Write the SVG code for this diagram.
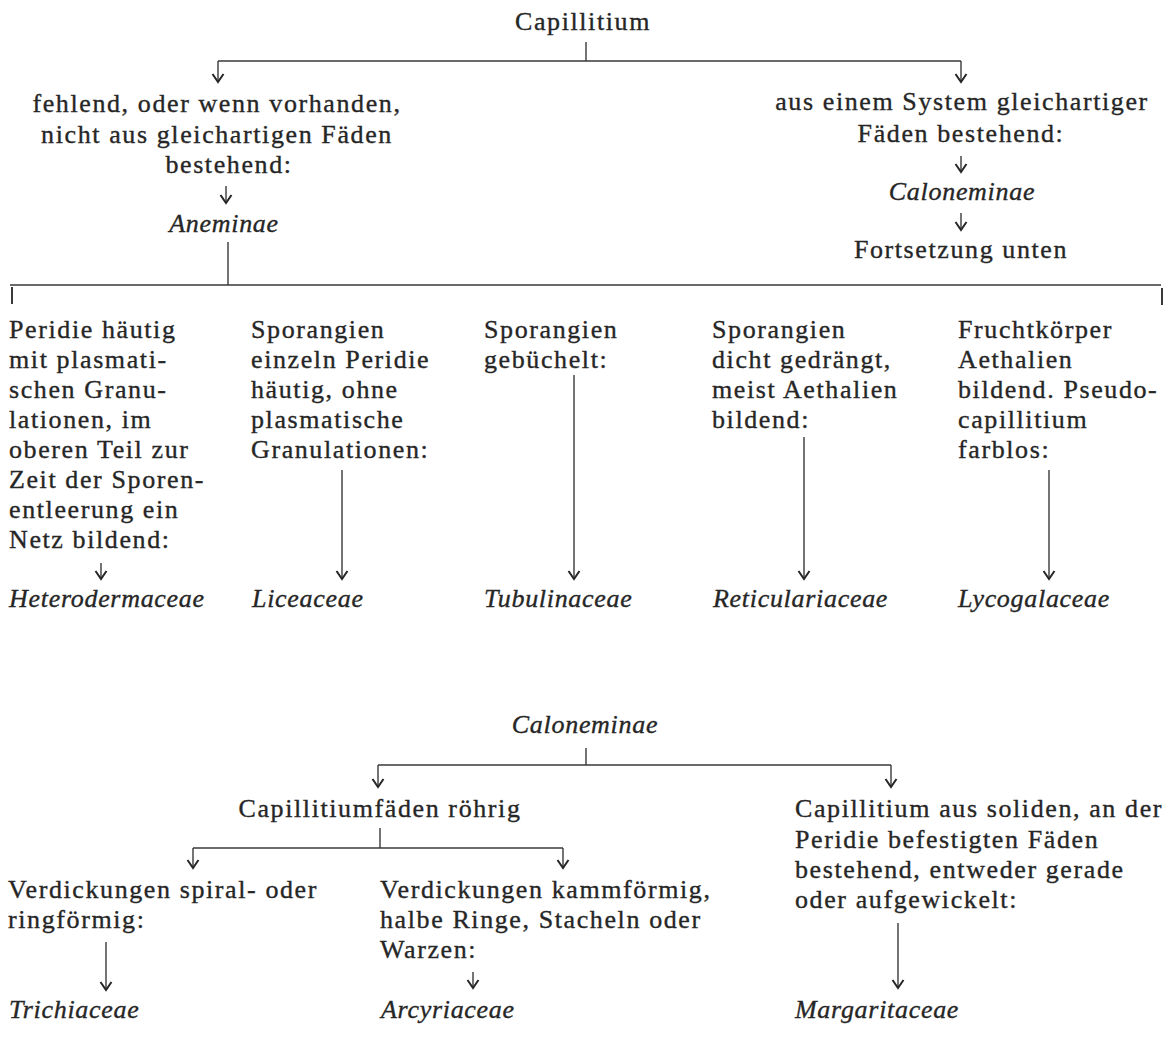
<svg xmlns="http://www.w3.org/2000/svg" width="1170" height="1050" viewBox="0 0 1170 1050">
<style>
.t{font-family:"Liberation Serif","Times New Roman",serif;font-size:26px;letter-spacing:1.6px;fill:#262626;stroke:#262626;stroke-width:0.35}
.i{font-family:"Liberation Serif","Times New Roman",serif;font-size:26px;font-style:italic;letter-spacing:0.7px;fill:#262626;stroke:#262626;stroke-width:0.35}
.m{text-anchor:middle}
.c{fill:none;stroke:#3a3a3a;stroke-width:1.4}
.a{fill:none;stroke:#3a3a3a;stroke-width:1.4;marker-end:url(#ah)}
.k{fill:none;stroke:#3a3a3a;stroke-width:2}
</style>
<defs>
<marker id="ah" markerUnits="userSpaceOnUse" viewBox="-10 -7 12 14" refX="0" refY="0" markerWidth="12" markerHeight="14" orient="auto">
<path d="M-8,-5.5 L0,0 L-8,5.5" fill="none" stroke="#262626" stroke-width="2"/>
</marker>
</defs>
<rect width="1170" height="1050" fill="#ffffff"/>

<g id="connectors">
<path class="c" d="M586,42 V61 M218,61 H961"/>
<path class="a" d="M218,61 V82"/>
<path class="a" d="M961,61 V82"/>
<path class="a" d="M226,186 V203"/>
<path class="a" d="M961,156 V172"/>
<path class="a" d="M961,213 V230"/>
<path class="c" d="M228,242 V285 M10,285 H1161"/>
<path class="k" d="M12,287 V304 M1162,288 V305"/>
<path class="a" d="M101,563 V579"/>
<path class="a" d="M342,470 V579"/>
<path class="a" d="M574,375 V579"/>
<path class="a" d="M804,437 V579"/>
<path class="a" d="M1049,470 V579"/>
<path class="c" d="M586,748 V765 M378,765 H891"/>
<path class="a" d="M378,765 V787"/>
<path class="a" d="M891,765 V787"/>
<path class="c" d="M380,828 V848 M193,848 H563"/>
<path class="a" d="M193,848 V868"/>
<path class="a" d="M563,848 V868"/>
<path class="a" d="M106,942 V990"/>
<path class="a" d="M473,972 V988"/>
<path class="a" d="M898,923 V988"/>
</g>

<g id="n-capillitium"><text class="t m" x="583" y="30">Capillitium</text></g>
<g id="n-fehlend">
<text class="t m" x="217" y="112">fehlend, oder wenn vorhanden,</text>
<text class="t m" x="217" y="143">nicht aus gleichartigen Fäden</text>
<text class="t m" x="229" y="173">bestehend:</text>
</g>
<g id="n-aneminae"><text class="i m" x="224" y="232">Aneminae</text></g>
<g id="n-system">
<text class="t m" x="962" y="110">aus einem System gleichartiger</text>
<text class="t m" x="961" y="142">Fäden bestehend:</text>
</g>
<g id="n-caloneminae-top"><text class="i m" x="962" y="200">Caloneminae</text></g>
<g id="n-fortsetzung"><text class="t m" x="961" y="258">Fortsetzung unten</text></g>

<g id="n-peridie">
<text class="t" x="9" y="338">Peridie häutig</text>
<text class="t" x="9" y="368">mit plasmati-</text>
<text class="t" x="9" y="398">schen Granu-</text>
<text class="t" x="9" y="428">lationen, im</text>
<text class="t" x="9" y="458">oberen Teil zur</text>
<text class="t" x="9" y="488">Zeit der Sporen-</text>
<text class="t" x="9" y="518">entleerung ein</text>
<text class="t" x="9" y="548">Netz bildend:</text>
</g>
<g id="n-heterodermaceae"><text class="i" x="9" y="607">Heterodermaceae</text></g>

<g id="n-sporangien-einzeln">
<text class="t" x="251" y="338">Sporangien</text>
<text class="t" x="251" y="368">einzeln Peridie</text>
<text class="t" x="251" y="398">häutig, ohne</text>
<text class="t" x="251" y="428">plasmatische</text>
<text class="t" x="251" y="458">Granulationen:</text>
</g>
<g id="n-liceaceae"><text class="i" x="252" y="607">Liceaceae</text></g>

<g id="n-sporangien-gebuchelt">
<text class="t" x="484" y="338">Sporangien</text>
<text class="t" x="484" y="368">gebüchelt:</text>
</g>
<g id="n-tubulinaceae"><text class="i" x="484" y="607">Tubulinaceae</text></g>

<g id="n-sporangien-dicht">
<text class="t" x="712" y="338">Sporangien</text>
<text class="t" x="712" y="368">dicht gedrängt,</text>
<text class="t" x="712" y="398">meist Aethalien</text>
<text class="t" x="712" y="428">bildend:</text>
</g>
<g id="n-reticulariaceae"><text class="i" x="713" y="607">Reticulariaceae</text></g>

<g id="n-fruchtkoerper">
<text class="t" x="958" y="338">Fruchtkörper</text>
<text class="t" x="958" y="368">Aethalien</text>
<text class="t" x="958" y="398">bildend. Pseudo-</text>
<text class="t" x="958" y="428">capillitium</text>
<text class="t" x="958" y="458">farblos:</text>
</g>
<g id="n-lycogalaceae"><text class="i" x="958" y="607">Lycogalaceae</text></g>

<g id="n-caloneminae"><text class="i m" x="585" y="733">Caloneminae</text></g>
<g id="n-roehrig"><text class="t m" x="380" y="817">Capillitiumfäden röhrig</text></g>
<g id="n-spiral">
<text class="t" x="8" y="898">Verdickungen spiral- oder</text>
<text class="t" x="8" y="928">ringförmig:</text>
</g>
<g id="n-trichiaceae"><text class="i" x="9" y="1018">Trichiaceae</text></g>
<g id="n-kamm">
<text class="t" x="380" y="898">Verdickungen kammförmig,</text>
<text class="t" x="380" y="928">halbe Ringe, Stacheln oder</text>
<text class="t" x="380" y="958">Warzen:</text>
</g>
<g id="n-arcyriaceae"><text class="i" x="381" y="1018">Arcyriaceae</text></g>
<g id="n-soliden">
<text class="t" x="795" y="817">Capillitium aus soliden, an der</text>
<text class="t" x="795" y="848">Peridie befestigten Fäden</text>
<text class="t" x="795" y="878">bestehend, entweder gerade</text>
<text class="t" x="795" y="908">oder aufgewickelt:</text>
</g>
<g id="n-margaritaceae"><text class="i" x="795" y="1018">Margaritaceae</text></g>
</svg>
